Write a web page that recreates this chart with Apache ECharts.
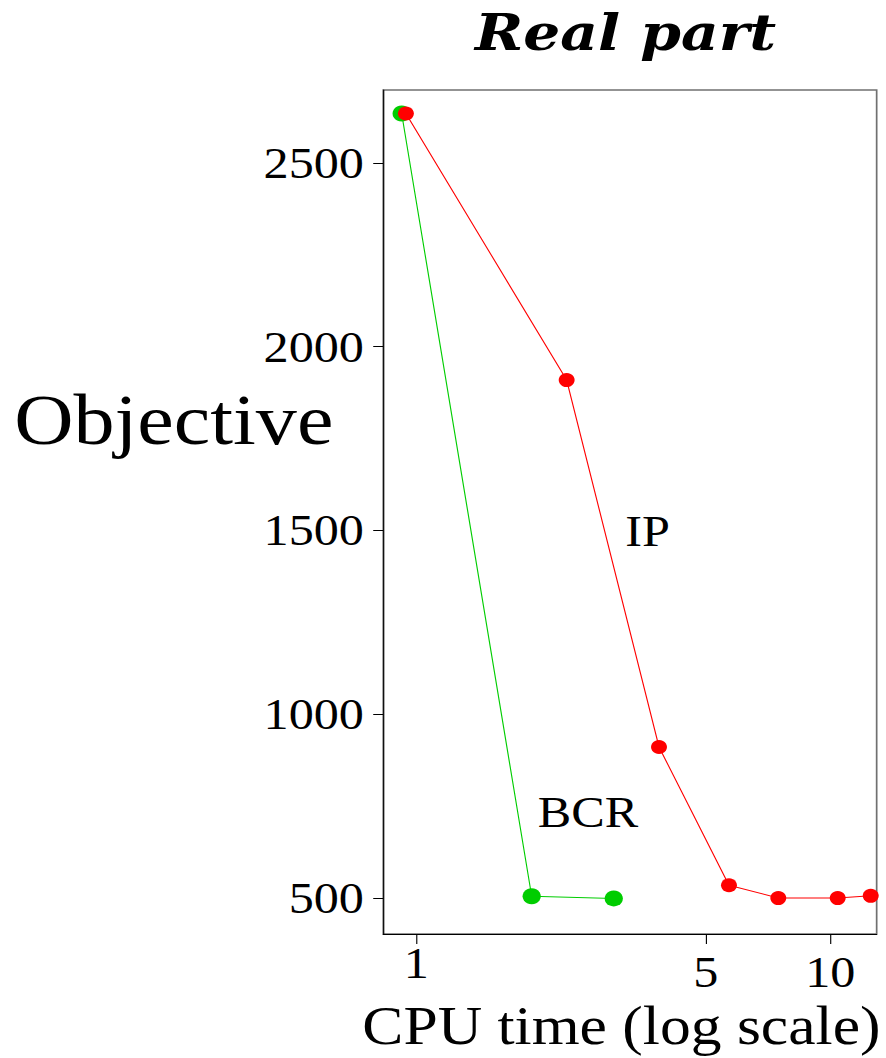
<!DOCTYPE html>
<html><head><meta charset="utf-8">
<script src="https://cdn.jsdelivr.net/npm/echarts@6/dist/echarts.min.js"></script>
<style>
html,body{margin:0;padding:0;background:#fff;overflow:hidden;}
#c{width:777px;height:1058px;transform:scaleX(1.1403);transform-origin:0 0;}
</style>
</head><body><div id="c"></div>
<script>
// CPU time (x, log scale) and objective values (y)
const bcrTime = [0.922, 1.900, 2.999];
const bcrObj  = [2634, 505, 499];
const ipTime  = [0.944, 2.308, 3.857, 5.692, 7.488, 10.42, 12.52];
const ipObj   = [2634, 1909, 911, 535, 500, 500, 506];
const xTicks  = [1, 5, 10];
const yTicks  = [500, 1000, 1500, 2000, 2500];
const ipLabel  = {text: 'IP',  at: [3.619, 1497]};
const bcrLabel = {text: 'BCR', at: [2.599, 733]};

const SERIF = "'Liberation Serif', 'Times New Roman', serif";
const GREEN = '#00cd00', RED = '#ff0000';

const chart = echarts.init(document.getElementById('c'), null, {renderer: 'svg'});
chart.setOption({
  animation: false,
  backgroundColor: '#fff',
  title: [
    {text: 'Real part', left: 543.6, top: 2, textAlign: 'center',
     textStyle: {fontFamily: "'DejaVu Serif', serif", fontStyle: 'italic', fontWeight: 'bold', fontSize: 51, color: '#000'}},
    {text: 'Objective', left: 147.4, top: 379, textAlign: 'center',
     textStyle: {fontFamily: SERIF, fontWeight: 'normal', fontSize: 72, color: '#000'}}
  ],
  grid: {left: 336.1, right: 8.2, top: 90, bottom: 123.7, show: true,
         borderColor: '#707070', borderWidth: 1.5, backgroundColor: 'transparent'},
  xAxis: {
    type: 'log', logBase: 10, min: 0.8323, max: 12.94,
    name: 'CPU time (log scale)', nameLocation: 'middle', nameGap: 44,
    nameTextStyle: {fontFamily: SERIF, fontSize: 54, color: '#000', padding: [0, 15, 0, 0]},
    axisLine: {show: true, lineStyle: {color: '#000', width: 1}},
    axisTick: {show: true, customValues: xTicks, length: 10, lineStyle: {color: '#000', width: 1}},
    minorTick: {show: false},
    splitLine: {show: false},
    axisLabel: {
      customValues: xTicks, margin: 7, color: '#000', fontFamily: SERIF, fontSize: 44,
      formatter: v => (v === 1 ? '{a|' + v + '}' : '{b|' + v + '}'),
      rich: {
        a: {fontFamily: SERIF, fontSize: 44, color: '#000'},
        b: {fontFamily: SERIF, fontSize: 44, color: '#000', padding: [9, 0, 0, 0]}
      }
    }
  },
  yAxis: {
    type: 'value', min: 402, max: 2698,
    axisLine: {show: true, lineStyle: {color: '#000', width: 1}},
    axisTick: {show: true, customValues: yTicks, length: 8.8, lineStyle: {color: '#000', width: 1}},
    splitLine: {show: false},
    axisLabel: {customValues: yTicks, margin: 17, color: '#000', fontFamily: SERIF, fontSize: 44,
                formatter: v => String(v)}
  },
  series: [
    {
      name: 'BCR', type: 'line', symbol: 'circle', symbolSize: 16,
      itemStyle: {color: GREEN}, lineStyle: {color: GREEN, width: 1},
      data: bcrTime.map((t, i) => [t, bcrObj[i]]),
      markPoint: {
        symbol: 'rect', symbolSize: 1, itemStyle: {color: 'rgba(0,0,0,0)'},
        label: {show: true, position: 'inside', color: '#000', fontFamily: SERIF, fontSize: 44, formatter: p => p.name},
        data: [{name: bcrLabel.text, coord: bcrLabel.at}]
      }
    },
    {
      name: 'IP', type: 'line', symbol: 'circle', symbolSize: 14,
      itemStyle: {color: RED}, lineStyle: {color: RED, width: 1},
      data: ipTime.map((t, i) => [t, ipObj[i]]),
      markPoint: {
        symbol: 'rect', symbolSize: 1, itemStyle: {color: 'rgba(0,0,0,0)'},
        label: {show: true, position: 'inside', color: '#000', fontFamily: SERIF, fontSize: 44, formatter: p => p.name},
        data: [{name: ipLabel.text, coord: ipLabel.at}]
      }
    }
  ]
});
</script>
</body></html>
